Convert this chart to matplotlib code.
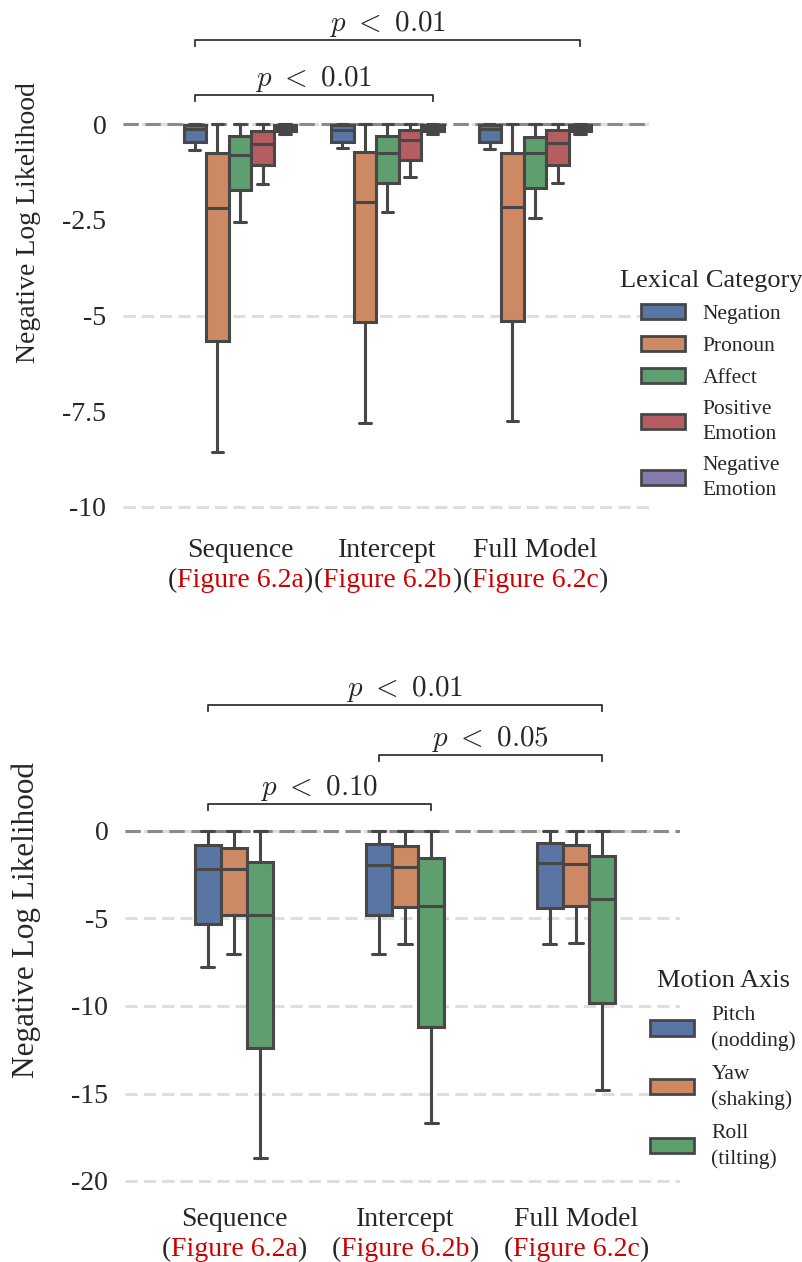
import numpy as np
import matplotlib
matplotlib.use("Agg")
import matplotlib.pyplot as plt
from matplotlib.patches import Patch
from matplotlib.offsetbox import TextArea, HPacker, VPacker, AnnotationBbox

plt.rcParams['font.family'] = ['Liberation Serif', 'DejaVu Serif']
plt.rcParams['mathtext.fontset'] = 'cm'
plt.rcParams['axes.unicode_minus'] = False
plt.rcParams['text.color'] = '#262626'
plt.rcParams['axes.labelcolor'] = '#262626'
plt.rcParams['ytick.color'] = '#262626'

# ---- data ----
models = ["Sequence", "Intercept", "Full Model"]
fig_refs = ["Figure 6.2a", "Figure 6.2b", "Figure 6.2c"]

# top panel: rows = lexical category, columns = model
lex_cats = ["Negation", "Pronoun", "Affect", "Positive\nEmotion", "Negative\nEmotion"]
lex_whislo = [[-0.68, -0.63, -0.66], [-8.56, -7.81, -7.75], [-2.55, -2.30, -2.45],
              [-1.57, -1.38, -1.54], [-0.25, -0.25, -0.25]]
lex_q1 = [[-0.47, -0.47, -0.48], [-5.67, -5.17, -5.14], [-1.72, -1.54, -1.67],
          [-1.07, -0.94, -1.07], [-0.18, -0.18, -0.18]]
lex_med = [[-0.12, -0.16, -0.13], [-2.19, -2.03, -2.17], [-0.81, -0.77, -0.76],
           [-0.52, -0.42, -0.50], [-0.10, -0.10, -0.10]]
lex_q3 = [[-0.03, -0.03, -0.03], [-0.76, -0.73, -0.76], [-0.31, -0.31, -0.33],
          [-0.18, -0.16, -0.16], [-0.03, -0.03, -0.03]]
lex_whishi = [[0, 0, 0]] * 5

# bottom panel: rows = motion axis, columns = model
axis_cats = ["Pitch\n(nodding)", "Yaw\n(shaking)", "Roll\n(tilting)"]
mot_whislo = [[-7.77, -7.03, -6.46], [-7.03, -6.46, -6.40], [-18.7, -16.7, -14.8]]
mot_q1 = [[-5.30, -4.80, -4.40], [-4.80, -4.35, -4.27], [-12.4, -11.2, -9.85]]
mot_med = [[-2.17, -1.94, -1.82], [-2.17, -2.06, -1.90], [-4.80, -4.27, -3.90]]
mot_q3 = [[-0.80, -0.74, -0.67], [-0.96, -0.88, -0.80], [-1.75, -1.56, -1.43]]
mot_whishi = [[0, 0, 0]] * 3

# significance brackets: (from category, from model, to category, to model, height, label)
lex_brackets = [(0, 0, 4, 2, 2.19, r"$p\ <\ 0.01$"), (0, 0, 4, 1, 0.76, r"$p\ <\ 0.01$")]
mot_brackets = [(0, 0, 2, 2, 7.2, r"$p\ <\ 0.01$"), (0, 1, 2, 2, 4.34, r"$p\ <\ 0.05$"),
                (0, 0, 2, 1, 1.54, r"$p\ <\ 0.10$")]

colors = ['#5975a4', '#cc8963', '#5f9e6e', '#b55d60', '#857aab']
edge = '#474747'
red = '#cc0000'
box_w = 0.153


def pos(j, i, n):
    return i + (j - (n - 1) / 2) * box_w


def draw_panel(ax, cats, whislo, q1, med, q3, whishi, grid, ticks, ticklabels,
               brackets, bh, label_y, title, leg_anchor, lab_sp, ylab_size):
    n = len(cats)
    for v in grid:
        ax.axhline(v, color='#dedede', lw=2.2, ls=(0, (4, 2)), zorder=0)
    ax.axhline(0, color='#8a8a8a', lw=2.2, ls=(0, (5, 2.2)), zorder=1)
    for j in range(n):
        stats = []
        for i in range(len(models)):
            stats.append(dict(whislo=whislo[j][i], q1=q1[j][i], med=med[j][i],
                              q3=q3[j][i], whishi=whishi[j][i], fliers=[]))
        ax.bxp(stats, positions=[pos(j, i, n) for i in range(len(models))],
               widths=box_w, patch_artist=True, showfliers=False,
               boxprops=dict(facecolor=colors[j], edgecolor=edge, linewidth=2.2),
               medianprops=dict(color=edge, linewidth=2.2),
               whiskerprops=dict(color=edge, linewidth=2.2),
               capprops=dict(color=edge, linewidth=2.2, solid_capstyle='round'))
    for (j0, i0, j1, i1, y, txt) in brackets:
        x0, x1 = pos(j0, i0, n), pos(j1, i1, n)
        ax.plot([x0, x0, x1, x1], [y - bh, y, y, y - bh], color='#333333', lw=1.3,
                clip_on=False)
        ax.annotate(txt, xy=((x0 + x1) / 2, y), xytext=(0, 0.8), textcoords='offset points',
                    ha='center', va='bottom', fontsize=21, color='#262626',
                    annotation_clip=False)
    ax.set_yticks(ticks)
    ax.set_yticklabels(ticklabels)
    ax.set_xticks([])
    ax.tick_params(axis='y', length=0, pad=12, labelsize=20)
    for s in ax.spines.values():
        s.set_visible(False)
    ax.set_ylabel("Negative Log Likelihood", fontsize=ylab_size)
    for i, (m, f) in enumerate(zip(models, fig_refs)):
        tp = dict(fontsize=20, color='#262626')
        row2 = HPacker(children=[TextArea("(", textprops=tp),
                                 TextArea(f, textprops=dict(fontsize=20, color=red)),
                                 TextArea(")", textprops=tp)],
                       align='baseline', pad=0, sep=0)
        vb = VPacker(children=[TextArea(m, textprops=tp), row2], align='center', pad=0, sep=3.8)
        ab = AnnotationBbox(vb, (i, label_y), xycoords='data', box_alignment=(0.5, 1),
                            frameon=False, annotation_clip=False, pad=0)
        ax.add_artist(ab)
    handles = [Patch(facecolor=colors[j], edgecolor=edge, linewidth=2) for j in range(n)]
    leg = ax.legend(handles, cats, title=title, loc='upper left', bbox_to_anchor=leg_anchor,
                    bbox_transform=fig.transFigure, frameon=False, fontsize=15.5,
                    title_fontsize=19, handlelength=2.05, handleheight=0.7,
                    handletextpad=0.8, labelspacing=lab_sp, borderpad=0, borderaxespad=0)
    for t in leg.get_texts():
        t.set_linespacing(1.4)


W, H = 803, 1262
fig = plt.figure(figsize=(W / 100, H / 100), dpi=100)

ax1 = fig.add_axes([123 / W, 1 - 520 / H, 527 / W, 510 / H])
ax1.set_xlim(-0.793, 2.78)
ax1.set_ylim(-(520 - 124) / 38.3, (124 - 10) / 38.3)
draw_panel(ax1, lex_cats, lex_whislo, lex_q1, lex_med, lex_q3, lex_whishi,
           [0, -5, -10], [0, -2.5, -5, -7.5, -10], ["0", "-2.5", "-5", "-7.5", "-10"],
           lex_brackets, 0.16, -10.81, "Lexical Category", (620 / W, 1 - 270 / H), 0.56, 20)
ax1.yaxis.set_label_coords(-0.155, 0.584)

ax2 = fig.add_axes([125 / W, 1 - 1190 / H, 555 / W, 530 / H])
ax2.set_xlim(-0.637, 2.608)
ax2.set_ylim(-(1190 - 831) / 17.5, (831 - 660) / 17.5)
draw_panel(ax2, axis_cats, mot_whislo, mot_q1, mot_med, mot_q3, mot_whishi,
           [0, -5, -10, -15, -20], [0, -5, -10, -15, -20], ["0", "-5", "-10", "-15", "-20"],
           mot_brackets, 0.34, -21.49, "Motion Axis", (650 / W, 1 - 970 / H), 0.66, 22.5)
ax2.yaxis.set_label_coords(-0.152, 0.509)

fig.savefig("out.png", dpi=100)
